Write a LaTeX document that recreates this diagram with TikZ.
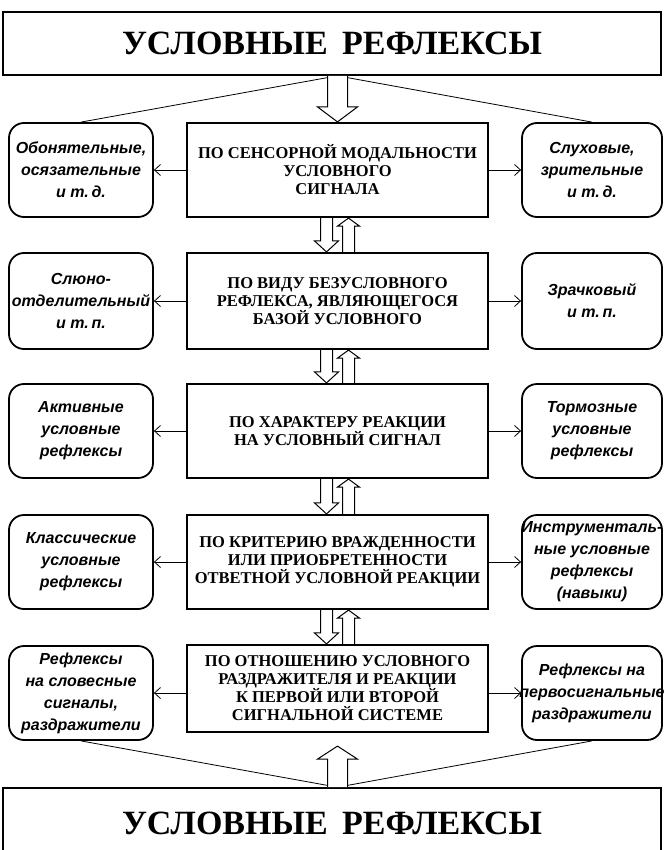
\documentclass[tikz,border=0pt]{standalone}
\usepackage{fontspec}
\setmainfont{Liberation Serif}
\newfontfamily\sidefont{Liberation Sans}
\usepackage{tikz}
\usetikzlibrary{arrows.meta,calc}

\tikzset{
  titlebox/.style={draw, line width=1.6pt, minimum width=658pt, font=\bfseries\fontsize{34}{40}\selectfont},
  critbox/.style={draw, line width=2.2pt, minimum width=301pt, minimum height=94pt, align=center, font=\bfseries\fontsize{16.5}{18}\selectfont},
  kindbox/.style={draw, line width=1.8pt, rounded corners=15pt, minimum height=94pt, inner sep=1pt, align=center, font=\sidefont\bfseries\itshape\fontsize{16}{22}\selectfont},
  leftkind/.style={kindbox, minimum width=144pt},
  rightkind/.style={kindbox, minimum width=140pt},
  sidearrow/.style={line width=0.8pt, -{Straight Barb[length=6pt,width=11pt]}},
  hollow/.style={draw, fill=white, line width=1pt}
}

% hollow block arrow: start anchor, tip anchor, x shift, shaft half width, head half width, head length (negative = upward)
\newcommand{\blockarrow}[6]{%
  \draw[hollow] ($(#2 |- #1)+({#3-#4},0)$) -- ($(#2)+({#3-#4},{-(#6)})$) -- ($(#2)+({#3-#5},{-(#6)})$)
    -- ($(#2)+(#3,0)$) -- ($(#2)+({#3+#5},{-(#6)})$) -- ($(#2)+({#3+#4},{-(#6)})$) -- ($(#2 |- #1)+({#3+#4},0)$);}
% a line that may stick out of its box on both sides
\newcommand{\wideline}[1]{\makebox[128pt]{#1}}

\begin{document}
\begin{tikzpicture}[x=1pt, y=-1pt]
\useasboundingbox (0,0) rectangle (664,850);

\node[titlebox, minimum height=63pt] (top) at (332,43.5) {УСЛОВНЫЕ\hspace{6pt} РЕФЛЕКСЫ};
\node[titlebox, minimum height=70pt] (bot) at (332,823) {УСЛОВНЫЕ\hspace{6pt} РЕФЛЕКСЫ};

\node[critbox] (c1) at (337.5,170) {ПО СЕНСОРНОЙ МОДАЛЬНОСТИ\\ УСЛОВНОГО\\ СИГНАЛА};
\node[critbox, minimum height=96pt] (c2) at (337.5,301) {ПО ВИДУ БЕЗУСЛОВНОГО\\ РЕФЛЕКСА, ЯВЛЯЮЩЕГОСЯ\\ БАЗОЙ УСЛОВНОГО};
\node[critbox] (c3) at (337.5,431) {ПО ХАРАКТЕРУ РЕАКЦИИ\\ НА УСЛОВНЫЙ СИГНАЛ};
\node[critbox] (c4) at (337.5,562) {ПО КРИТЕРИЮ ВРАЖДЕННОСТИ\\ ИЛИ ПРИОБРЕТЕННОСТИ\\ ОТВЕТНОЙ УСЛОВНОЙ РЕАКЦИИ};
\node[critbox, minimum height=87pt] (c5) at (337.5,688.5) {ПО ОТНОШЕНИЮ УСЛОВНОГО\\ РАЗДРАЖИТЕЛЯ И РЕАКЦИИ\\ К ПЕРВОЙ ИЛИ ВТОРОЙ\\ СИГНАЛЬНОЙ СИСТЕМЕ};

\node[leftkind] (l1) at (81,170) {Обонятельные,\\ осязательные\\ и т.\,д.};
\node[leftkind, minimum height=96pt] (l2) at (81,301) {Слюно-\\ \wideline{отделительный}\\ и т.\,п.};
\node[leftkind] (l3) at (81,431) {Активные\\ условные\\ рефлексы};
\node[leftkind] (l4) at (81,562) {Классические\\ условные\\ рефлексы};
\node[leftkind] (l5) at (81,693) {Рефлексы\\ на словесные\\ сигналы,\\ \wideline{раздражители}};

\node[rightkind] (r1) at (592,170) {Слуховые,\\ зрительные\\ и т.\,д.};
\node[rightkind, minimum height=96pt] (r2) at (592,301) {Зрачковый\\ и т.\,п.};
\node[rightkind] (r3) at (592,431) {Тормозные\\ условные\\ рефлексы};
\node[rightkind] (r4) at (592,562) {\wideline{Инструменталь-}\\ ные условные\\ рефлексы\\ (навыки)};
\node[rightkind] (r5) at (592,693) {Рефлексы на\\ \wideline{первосигнальные}\\ раздражители};

% fan lines to the side boxes
\coordinate (tp) at (c1.north |- top.south);
\coordinate (bp) at (c5.south |- bot.north);
\draw[line width=0.8pt] (tp) -- (l1.north);
\draw[line width=0.8pt] (tp) -- (r1.north);
\draw[line width=0.8pt] (bp) -- (l5.south);
\draw[line width=0.8pt] (bp) -- (r5.south);

% side arrows
\draw[sidearrow] (l1.east -| c1.west) -- (l1.east);
\draw[sidearrow] (r1.west -| c1.east) -- (r1.west);
\draw[sidearrow] (l2.east -| c2.west) -- (l2.east);
\draw[sidearrow] (r2.west -| c2.east) -- (r2.west);
\draw[sidearrow] (l3.east -| c3.west) -- (l3.east);
\draw[sidearrow] (r3.west -| c3.east) -- (r3.west);
\draw[sidearrow] (l4.east -| c4.west) -- (l4.east);
\draw[sidearrow] (r4.west -| c4.east) -- (r4.west);
\draw[sidearrow] (l5.east -| c5.west) -- (l5.east);
\draw[sidearrow] (r5.west -| c5.east) -- (r5.west);

% block arrows
\blockarrow{top.south}{c1.north}{0}{10}{20}{15}
\blockarrow{c1.south}{c2.north}{-11}{6}{12}{11}
\blockarrow{c2.north}{c1.south}{11}{6}{11}{-8}
\blockarrow{c2.south}{c3.north}{-11}{6}{12}{11}
\blockarrow{c3.north}{c2.south}{11}{6}{11}{-8}
\blockarrow{c3.south}{c4.north}{-11}{6}{12}{11}
\blockarrow{c4.north}{c3.south}{11}{6}{11}{-8}
\blockarrow{c4.south}{c5.north}{-11}{6}{12}{11}
\blockarrow{c5.north}{c4.south}{11}{6}{11}{-8}
\coordinate (g5) at ($(c5.south)+(0,13)$);
\blockarrow{bot.north}{g5}{0}{10}{20}{-13}
\end{tikzpicture}
\end{document}
